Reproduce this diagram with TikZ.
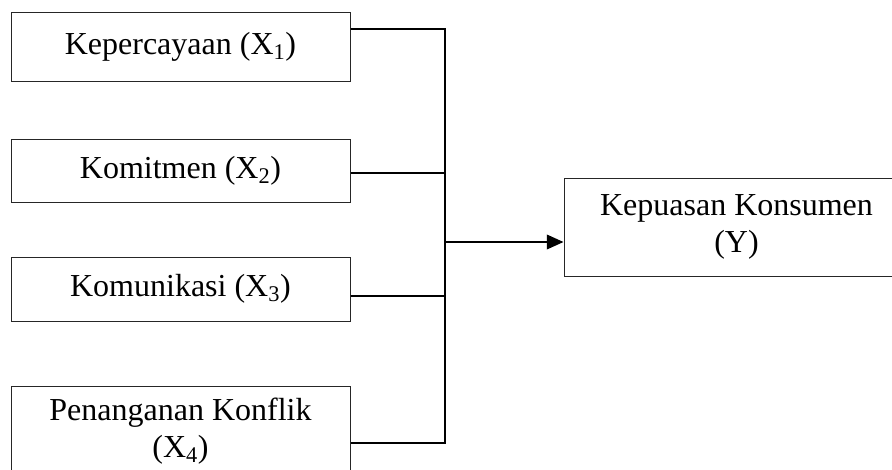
\documentclass[tikz,border=0pt]{standalone}
\usepackage{fontspec}
\setmainfont{Liberation Serif}
\usetikzlibrary{arrows.meta,calc}
\tikzset{
  varbox/.style={draw=black!85, line width=0.75pt, inner sep=0pt,
    minimum width=254.25pt, align=center,
    font=\fontsize{24}{27.6}\selectfont},
  link/.style={draw=black, line width=1.1pt},
  flow/.style={link, -{Triangle[length=12.5pt,width=11pt]}}
}
\begin{document}
\begin{tikzpicture}[x=0.75pt,y=-0.75pt]
  \useasboundingbox (0,0) rectangle (892,469);
  \clip (0,0) rectangle (892,469);

  % independent variables
  \node[varbox, minimum height=51.75pt] (b1) at (180.5,46.5) {Kepercayaan (X\textsubscript{1})};
  \node[varbox, minimum height=47.25pt] (b2) at (180.5,171) {Komitmen (X\textsubscript{2})};
  \node[varbox, minimum height=48pt] (b3) at (180.5,289) {Komunikasi (X\textsubscript{3})};
  \node[varbox, minimum height=67.5pt, anchor=north] (b4) at (180.5,386) {Penanganan Konflik\\(X\textsubscript{4})};

  % dependent variable
  \node[varbox, minimum width=258.75pt, minimum height=73.5pt] (y) at (736.5,227) {Kepuasan Konsumen\\(Y)};

  % junction points on the collecting bus
  \coordinate (busTop) at (445,29);
  \coordinate (busBot) at (445,443);
  \coordinate (busX2) at (445,173);
  \coordinate (busX3) at (445,296);
  \coordinate (busOut) at (445,242);

  \draw[link] (b1.east |- busTop) -- (busTop) -- (busBot) -- (b4.east |- busBot);
  \draw[link] (b2.east |- busX2) -- (busX2);
  \draw[link] (b3.east |- busX3) -- (busX3);
  \draw[flow] (busOut) -- (y.west |- busOut);
\end{tikzpicture}
\end{document}
